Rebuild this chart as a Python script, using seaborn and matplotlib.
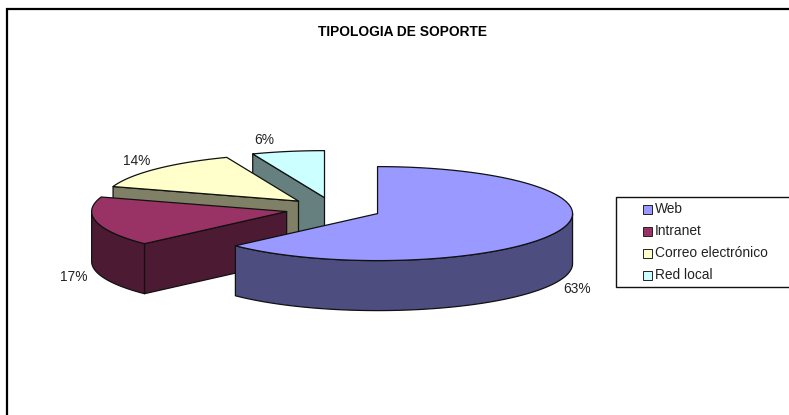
import numpy as np
import matplotlib
matplotlib.use("Agg")
import matplotlib.pyplot as plt
from matplotlib.patches import Polygon, Rectangle
import seaborn as sns

# ---- data -------------------------------------------------------------
title = "TIPOLOGIA DE SOPORTE"
categories = ["Web", "Intranet", "Correo electrónico", "Red local"]
values = [63, 17, 14, 6]
top_colors = ["#9999FF", "#993366", "#FFFFCC", "#CCFFFF"]
wall_colors = ["#4D4D80", "#4D1A33", "#808066", "#668080"]

# ---- layout (pixels of the 789x415 canvas) -----------------------------
CX, CY = 333.5, 209.0      # pie centre
RX, RY = 195.0, 47.0       # ellipse radii
EXPLODE = 48.0             # explosion distance
DEPTH = 50.0               # extrusion
LABEL_OFFSETS = [(21, 57), (-23, 55), (-20, -8), (-24, -11)]
FS_TITLE = 9.9 * 0.8
FS_TEXT = 9.9

sns.set_theme(style="white")
plt.rcParams["font.family"] = ["Liberation Sans", "DejaVu Sans"]
palette = sns.color_palette(top_colors)
wall_palette = sns.color_palette(wall_colors)

fig = plt.figure(figsize=(7.89, 4.15), dpi=100, facecolor="white")
ax = fig.add_axes([0, 0, 1, 1])
ax.set_xlim(0, 789)
ax.set_ylim(415, 0)
ax.axis("off")


def point(cx, cy, deg):
    r = np.radians(deg)
    return np.column_stack([cx + RX * np.sin(r), cy - RY * np.cos(r)])


fractions = np.array(values, dtype=float) / np.sum(values)
edges = np.concatenate([[0.0], np.cumsum(fractions) * 360.0])
wedges = []
for i in range(len(values)):
    a1, a2 = edges[i], edges[i + 1]
    mid = np.radians((a1 + a2) / 2)
    ax0 = CX + EXPLODE * np.sin(mid)
    ay0 = CY - EXPLODE * (RY / RX) * np.cos(mid)
    wedges.append((i, a1, a2, ax0, ay0))

edge_kw = dict(edgecolor="#111111", linewidth=0.9, joinstyle="round")
down = np.array([0.0, DEPTH])

# back-to-front: the last slices sit furthest away
for i, a1, a2, ax0, ay0 in reversed(wedges):
    apex = np.array([[ax0, ay0]])
    # radial wall at the start of the slice
    if np.sin(np.radians(a1)) < -1e-6:
        rim = point(ax0, ay0, a1)
        ax.add_patch(Polygon(np.vstack([apex, rim, rim + down, apex + down]),
                             facecolor=wall_palette[i], **edge_kw))
    # radial wall at the end of the slice
    if np.sin(np.radians(a2)) > 1e-6:
        rim = point(ax0, ay0, a2)
        ax.add_patch(Polygon(np.vstack([apex, rim, rim + down, apex + down]),
                             facecolor=wall_palette[i], **edge_kw))
    # outer curved wall, only the part that faces the viewer
    lo, hi = max(a1, 90.0), min(a2, 270.0)
    if hi > lo:
        arc = point(ax0, ay0, np.linspace(lo, hi, 120))
        ax.add_patch(Polygon(np.vstack([arc, (arc + down)[::-1]]),
                             facecolor=wall_palette[i], **edge_kw))
    # top face
    arc = point(ax0, ay0, np.linspace(a1, a2, 200))
    ax.add_patch(Polygon(np.vstack([apex, arc]), facecolor=palette[i], **edge_kw))

# percentage labels
for (i, a1, a2, ax0, ay0), (dx, dy) in zip(wedges, LABEL_OFFSETS):
    p = point(ax0, ay0, (a1 + a2) / 2)[0]
    ax.text(p[0] + dx, p[1] + dy, f"{values[i]}%", ha="center", va="center",
            fontsize=FS_TEXT, color="#222222")

# title and chart frame
ax.text(403, 32, title, ha="center", va="center", fontsize=9.9,
        fontweight="bold", color="black")
ax.plot([7, 7, 789], [415, 9, 9], color="black", lw=1.6, solid_joinstyle="miter",
        clip_on=False)

# legend
ax.add_patch(Rectangle((616, 197), 175, 90, facecolor="white", edgecolor="#111111",
                       linewidth=1.0, clip_on=False))
for i, name in enumerate(categories):
    y = 209 + i * 22.1
    ax.add_patch(Rectangle((643, y - 4.5), 9, 9, facecolor=palette[i],
                           edgecolor="#222222", linewidth=0.7))
    ax.text(655, y, name, ha="left", va="center", fontsize=FS_TEXT, color="#222222")

fig.savefig("out.png", dpi=100, facecolor="white")
